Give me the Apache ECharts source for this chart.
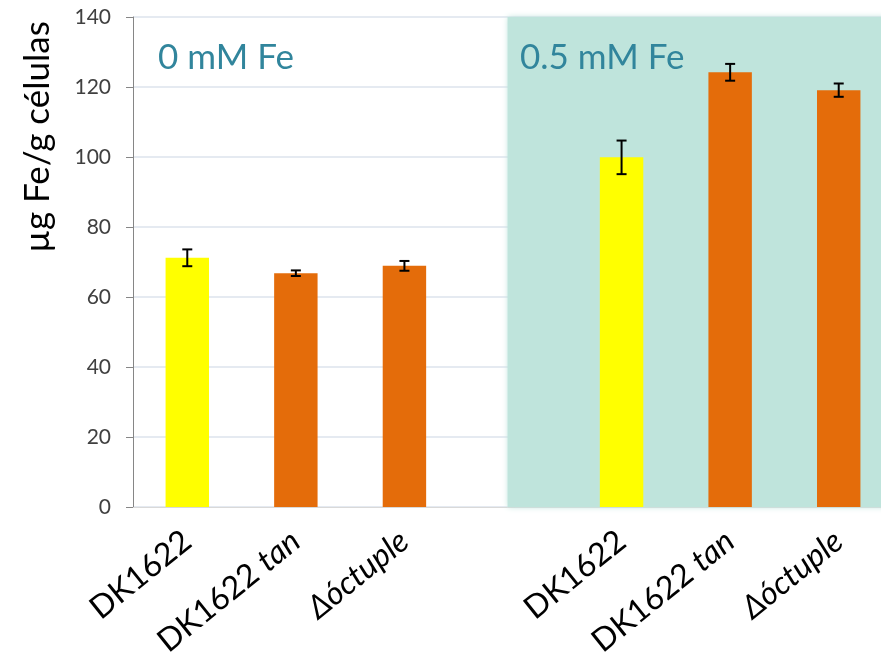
<!DOCTYPE html>
<html><head><meta charset="utf-8">
<script src="https://cdn.jsdelivr.net/npm/echarts@6/dist/echarts.min.js"></script>
<style>html,body{margin:0;padding:0;background:#fff}#c{width:881px;height:662px}</style>
</head><body><div id="c"></div>
<script>
const categories = ['DK1622', 'DK1622 tan', 'Δóctuple', '', 'DK1622', 'DK1622 tan', 'Δóctuple'];
const values = [71.2, 66.8, 68.9, null, 99.9, 124.2, 119.1];
const errors = [2.4, 0.8, 1.4, null, 4.8, 2.4, 1.9];
const strainType = ['wt', 'mut', 'mut', null, 'wt', 'mut', 'mut'];
const yTicks = { min: 0, max: 140, interval: 20 };
const groupLabels = ['0 mM Fe', '0.5 mM Fe'];
const yTitle = 'µg Fe/g células';
const shadedRange = [3.45, 7.2];

const colorFor = { wt: '#ffff00', mut: '#e46c0a' };
const font = 'Lato, "Open Sans", sans-serif';

const barData = values.map((v, i) => v == null ? null : ({ value: v, itemStyle: { color: colorFor[strainType[i]] } }));
const errData = values.map((v, i) => v == null ? null : [i, v - errors[i], v + errors[i]]).filter(d => d);

const chart = echarts.init(document.getElementById('c'));
chart.setOption({
  animation: false,
  grid: { left: 133, top: 17, width: 760, height: 490, containLabel: false, outerBoundsMode: 'none' },
  xAxis: [{
    type: 'category', data: categories,
    axisLine: { lineStyle: { color: '#d9d9d9', width: 1 } },
    axisTick: { show: false },
    axisLabel: {
      interval: 0, rotate: 39, margin: 30, fontFamily: font, fontSize: 32, color: '#000',
      formatter: function (v) {
        if (v === 'DK1622 tan') return '{n|DK1622 }{i|tan}';
        if (v === 'Δóctuple') return '{i|Δóctuple}';
        return '{n|' + v + '}';
      },
      rich: {
        n: { fontFamily: font, fontSize: 32, color: '#000' },
        i: { fontFamily: font, fontSize: 32, fontStyle: 'italic', color: '#000' }
      }
    }
  }, {
    type: 'value', min: 0, max: 7, show: false
  }],
  yAxis: {
    type: 'value', min: yTicks.min, max: yTicks.max, interval: yTicks.interval,
    axisLine: { show: true, lineStyle: { color: '#868686' } },
    axisTick: { show: true, length: 7, lineStyle: { color: '#868686' } },
    axisLabel: { fontFamily: font, fontSize: 21, color: '#404040', margin: 22 },
    splitLine: { lineStyle: { color: '#dde3ec', width: 1.5 } }
  },
  series: [{
    type: 'line', xAxisIndex: 1, data: [], symbol: 'none',
    markArea: {
      silent: true,
      itemStyle: { color: '#bfe4dc', shadowColor: '#bfe4dc', shadowBlur: 6 },
      data: [[{ xAxis: shadedRange[0], yAxis: yTicks.min }, { xAxis: shadedRange[1], yAxis: yTicks.max }]]
    },
    z: 0
  }, {
    type: 'bar', data: barData, barWidth: '40%', z: 2
  }, {
    type: 'custom', z: 5,
    renderItem: function (params, api) {
      const x = api.value(0);
      const lo = api.coord([x, api.value(1)]);
      const hi = api.coord([x, api.value(2)]);
      const w = 5;
      const st = { stroke: '#000', lineWidth: 2 };
      return { type: 'group', children: [
        { type: 'line', shape: { x1: lo[0], y1: lo[1], x2: hi[0], y2: hi[1] }, style: st },
        { type: 'line', shape: { x1: lo[0] - w, y1: lo[1], x2: lo[0] + w, y2: lo[1] }, style: st },
        { type: 'line', shape: { x1: hi[0] - w, y1: hi[1], x2: hi[0] + w, y2: hi[1] }, style: st }
      ]};
    },
    data: errData
  }],
  graphic: [
    { type: 'text', z: 100, left: 158, top: 40, style: { text: groupLabels[0], font: '35px ' + font, fill: '#31859c' } },
    { type: 'text', z: 100, left: 520, top: 40, style: { text: groupLabels[1], font: '35px ' + font, fill: '#31859c' } },
    { type: 'text', z: 100, x: 38, y: 137, rotation: Math.PI / 2,
      style: { text: yTitle, font: '35px ' + font, fill: '#000', textAlign: 'center', textVerticalAlign: 'middle' } }
  ]
});
</script></body></html>
